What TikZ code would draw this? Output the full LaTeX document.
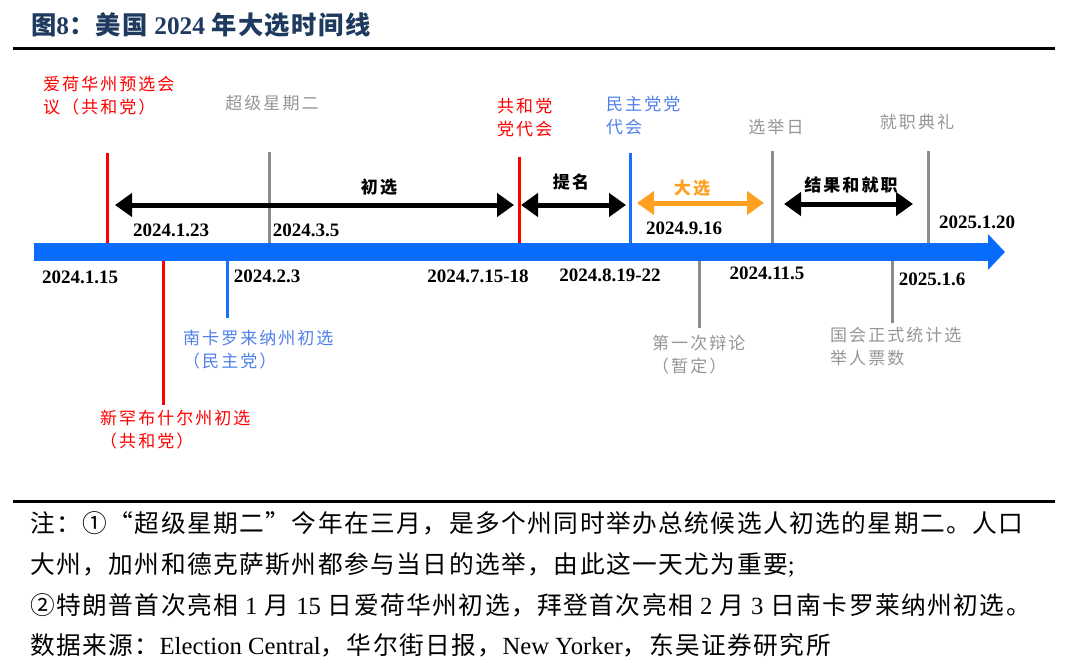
\documentclass[tikz,border=0pt]{standalone}
\usepackage{fontspec}
\setmainfont{Liberation Serif}
\newfontfamily\cjk[LetterSpace=12]{Noto Sans CJK SC}
\newfontfamily\cjknote[LetterSpace=6]{Noto Sans CJK SC}
\usetikzlibrary{arrows.meta,positioning}
\definecolor{shaft}{HTML}{0A6CFF}
\definecolor{demblue}{HTML}{1A6EFF}
\definecolor{demtext}{HTML}{4F7FEA}
\definecolor{repred}{HTML}{FF0000}
\definecolor{tickgray}{HTML}{8C8C8C}
\definecolor{textgray}{HTML}{969696}
\definecolor{gen}{HTML}{FFA020}
\definecolor{navy}{HTML}{1F3A5F}

\begin{document}
\begin{tikzpicture}[x=1pt,y=-1pt,
    tick/.style={line width=3pt},
    date/.style={font=\fontsize{19}{21}\selectfont\bfseries,inner sep=0pt},
    lbl/.style={font=\cjk\fontsize{17}{23}\selectfont,align=left,inner sep=0pt,anchor=west},
    span/.style={{Triangle[length=17pt,width=23pt]}-{Triangle[length=17pt,width=23pt]},line width=5pt},
    spanlbl/.style={font=\cjk\bfseries\fontsize{17}{20}\selectfont,inner sep=0pt},
    note/.style={font=\cjknote\fontsize{24.7}{27}\selectfont,inner sep=0pt,anchor=west}]
  \fill[white] (0,0) rectangle (1080,669);
  \useasboundingbox (0,0) rectangle (1080,669);

  \node[anchor=west,inner sep=0pt,text=navy,font=\fontsize{25.3}{27}\selectfont\bfseries] (title) at (31,25)
    {{\cjknote 图}8{\cjknote ：美国} 2024 {\cjknote 年大选时间线}};
  \coordinate (topL) at (13,49);
  \coordinate (topR) at (1055,49);
  \draw[line width=3pt] (topL) -- (topR);

  \coordinate (axisL) at (34,252);
  \coordinate (axisR) at (1005,252);
  \draw[shaft,line width=18.5pt,-{Triangle[length=17pt,width=35pt]}] (axisL) -- (axisR);

  \foreach \n/\x/\y/\c in {iowa/107.5/153/repred, super/269.5/152/tickgray, rnc/519.5/157/repred,
      dnc/630.5/153/demblue, vote/772.5/151/tickgray, oath/928.5/151/tickgray} {
    \coordinate (\n top) at (\x,\y);
    \coordinate (\n base) at (\x,243);
    \draw[tick,\c] (\n base) -- (\n top);
  }
  \foreach \n/\x/\y/\c in {nh/163.5/405/repred, sc/227.5/318/demblue,
      debate/699.5/328/tickgray, count/892.5/323/tickgray} {
    \coordinate (\n top) at (\x,261);
    \coordinate (\n base) at (\x,\y);
    \draw[tick,\c] (\n top) -- (\n base);
  }

  \node[lbl,text=repred] (iowaT) at (43,96) {爱荷华州预选会\\议（共和党）};
  \node[lbl,anchor=center,text=textgray] (superT) at (272,103) {超级星期二};
  \node[lbl,text=repred] (rncT) at (497,118) {共和党\\党代会};
  \node[lbl,text=demtext] (dncT) at (606,116) {民主党党\\代会};
  \node[lbl,anchor=center,text=textgray] (voteT) at (776,127) {选举日};
  \node[lbl,anchor=center,text=textgray] (oathT) at (917,122) {就职典礼};
  \node[lbl,text=repred] (nhT) at (100,430) {新罕布什尔州初选\\（共和党）};
  \node[lbl,text=demtext] (scT) at (183,350) {南卡罗来纳州初选\\（民主党）};
  \node[lbl,text=textgray] (debateT) at (652,355) {第一次辩论\\（暂定）};
  \node[lbl,text=textgray] (countT) at (830,347) {国会正式统计选\\举人票数};

  \foreach \n/\x/\y/\t in {a/171/230/2024.1.23, b/306/230/2024.3.5, c/684/228/2024.9.16,
      d/977/222/2025.1.20, e/80/277/2024.1.15, f/267/276/2024.2.3, g/478/276/2024.7.15-18,
      h/610/275/2024.8.19-22, i/767/273/2024.11.5, j/932/279/2025.1.6}
    \node[date] (d\n) at (\x,\y) {\t};

  \coordinate (priL) at (115,205);
  \coordinate (priR) at (514,205);
  \draw[span] (priL) -- (priR);
  \node[spanlbl] (priT) at (379,187) {初选};
  \coordinate (nomL) at (521,205);
  \coordinate (nomR) at (626,205);
  \draw[span] (nomL) -- (nomR);
  \node[spanlbl] (nomT) at (571,182) {提名};
  \coordinate (genL) at (637,203);
  \coordinate (genR) at (764,203);
  \draw[span,gen] (genL) -- (genR);
  \node[spanlbl,text=gen] (genT) at (692,188) {大选};
  \coordinate (resL) at (784,204);
  \coordinate (resR) at (913,204);
  \draw[span] (resL) -- (resR);
  \node[spanlbl] (resT) at (851,185) {结果和就职};

  \coordinate (botL) at (13,501);
  \coordinate (botR) at (1055,501);
  \draw[line width=3pt] (botL) -- (botR);
  \node[note] (note1) at (30,523) {注：①“超级星期二”今年在三月，是多个州同时举办总统候选人初选的星期二。人口};
  \node[note] (note2) at (30,565) {大州，加州和德克萨斯州都参与当日的选举，由此这一天尤为重要{\rmfamily ;}};
  \node[note] (note3) at (30,605) {②特朗普首次亮相 {\rmfamily 1} 月 {\rmfamily 15} 日爱荷华州初选，拜登首次亮相 {\rmfamily 2} 月 {\rmfamily 3} 日南卡罗莱纳州初选。};
  \node[note] (note4) at (30,645) {数据来源：{\rmfamily Election Central}，华尔街日报，{\rmfamily New Yorker}，东吴证券研究所};
\end{tikzpicture}
\end{document}
